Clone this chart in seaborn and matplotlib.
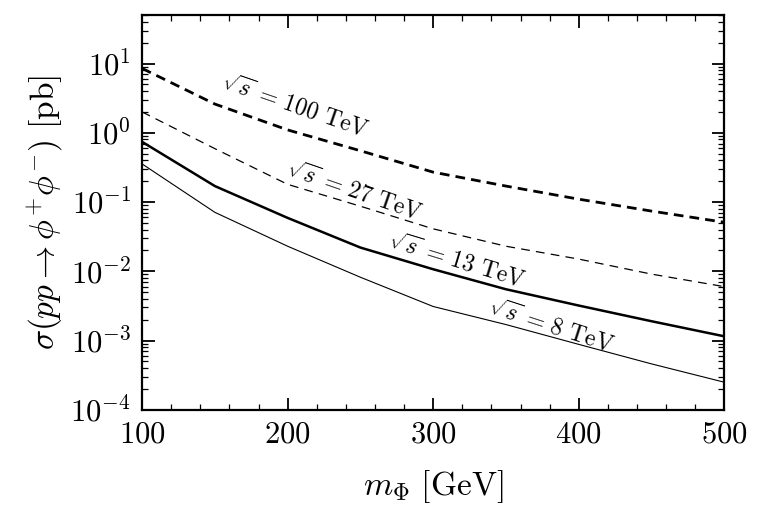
import numpy as np
import pandas as pd
import seaborn as sns
import matplotlib.pyplot as plt
from matplotlib.ticker import LogLocator, MultipleLocator, NullFormatter

# cross sections, in pb
mass = [100, 150, 200, 250, 300, 350, 400, 450, 500]
xs_100 = [8.5, 2.6, 1.1, 0.55, 0.27, 0.17, 0.11, 0.074, 0.051]
xs_27 = [2.0, 0.59, 0.18, 0.087, 0.041, 0.023, 0.015, 0.0091, 0.006]
xs_13 = [0.74, 0.17, 0.059, 0.022, 0.0107, 0.0055, 0.0032, 0.0019, 0.00115]
xs_8 = [0.355, 0.071, 0.023, 0.0082, 0.0031, 0.0017, 0.00088, 0.00046, 0.00025]

energies = ["100", "27", "13", "8"]
label_x = [205, 246, 316, 381]
label_y = [2.4, 0.14, 0.014, 0.0016]
label_rot = [-19, -19, -17, -18]

sns.set_style("ticks", rc={"xtick.direction": "in", "ytick.direction": "in",
                           "xtick.top": True, "ytick.right": True,
                           "xtick.color": "black", "ytick.color": "black",
                           "axes.edgecolor": "black", "axes.labelcolor": "black",
                           "text.color": "black"})
plt.rcParams["font.family"] = "serif"
plt.rcParams["font.serif"] = ["cmr10", "DejaVu Serif"]
plt.rcParams["mathtext.fontset"] = "cm"
plt.rcParams["axes.formatter.use_mathtext"] = True

df = pd.DataFrame({"m": mass, "100": xs_100, "27": xs_27, "13": xs_13, "8": xs_8})

fig = plt.figure(figsize=(7.64, 5.22), dpi=100)
ax = fig.add_axes([0.186, 0.215, 0.762, 0.756])

styles = {
    "100": dict(lw=2.0, dashes=(3.5, 2.2)),
    "27": dict(lw=0.9, dashes=(7, 5)),
    "13": dict(lw=1.8),
    "8": dict(lw=0.8),
}
for e in energies:
    st = styles[e]
    sns.lineplot(x="m", y=e, data=df, ax=ax, color="black", lw=st["lw"])
    if "dashes" in st:
        ax.lines[-1].set_dashes(st["dashes"])

ax.set_yscale("log")
ax.set_xlim(100, 500)
ax.set_ylim(1e-4, 50)

for e, lx, ly, r in zip(energies, label_x, label_y, label_rot):
    ax.text(lx, ly, r"$\sqrt{s}\,=\,%s\ \mathrm{TeV}$" % e, fontsize=17, color="black",
            rotation=r, ha="center", va="center", rotation_mode="anchor")

ax.xaxis.set_major_locator(MultipleLocator(100))
ax.xaxis.set_minor_locator(MultipleLocator(20))
ax.yaxis.set_major_locator(LogLocator(base=10, numticks=20))
ax.yaxis.set_minor_locator(LogLocator(base=10, subs=np.arange(2, 10), numticks=20))
ax.yaxis.set_minor_formatter(NullFormatter())
ax.tick_params(which="both", direction="in", top=True, right=True, bottom=True,
               left=True, labelsize=22, colors="black")
ax.tick_params(which="major", length=9, width=1.3, pad=8)
ax.tick_params(which="minor", length=4.5, width=0.9)
for s in ax.spines.values():
    s.set_linewidth(1.6)
    s.set_color("black")

ax.set_xlabel(r"$m_\Phi\ [\mathrm{GeV}]$", fontsize=24, labelpad=14, color="black")
ax.set_ylabel(r"$\sigma(pp \to \phi^{+}\phi^{-})\ [\mathrm{pb}]$", fontsize=24,
              labelpad=4, color="black")

fig.savefig("out.png", dpi=100)
